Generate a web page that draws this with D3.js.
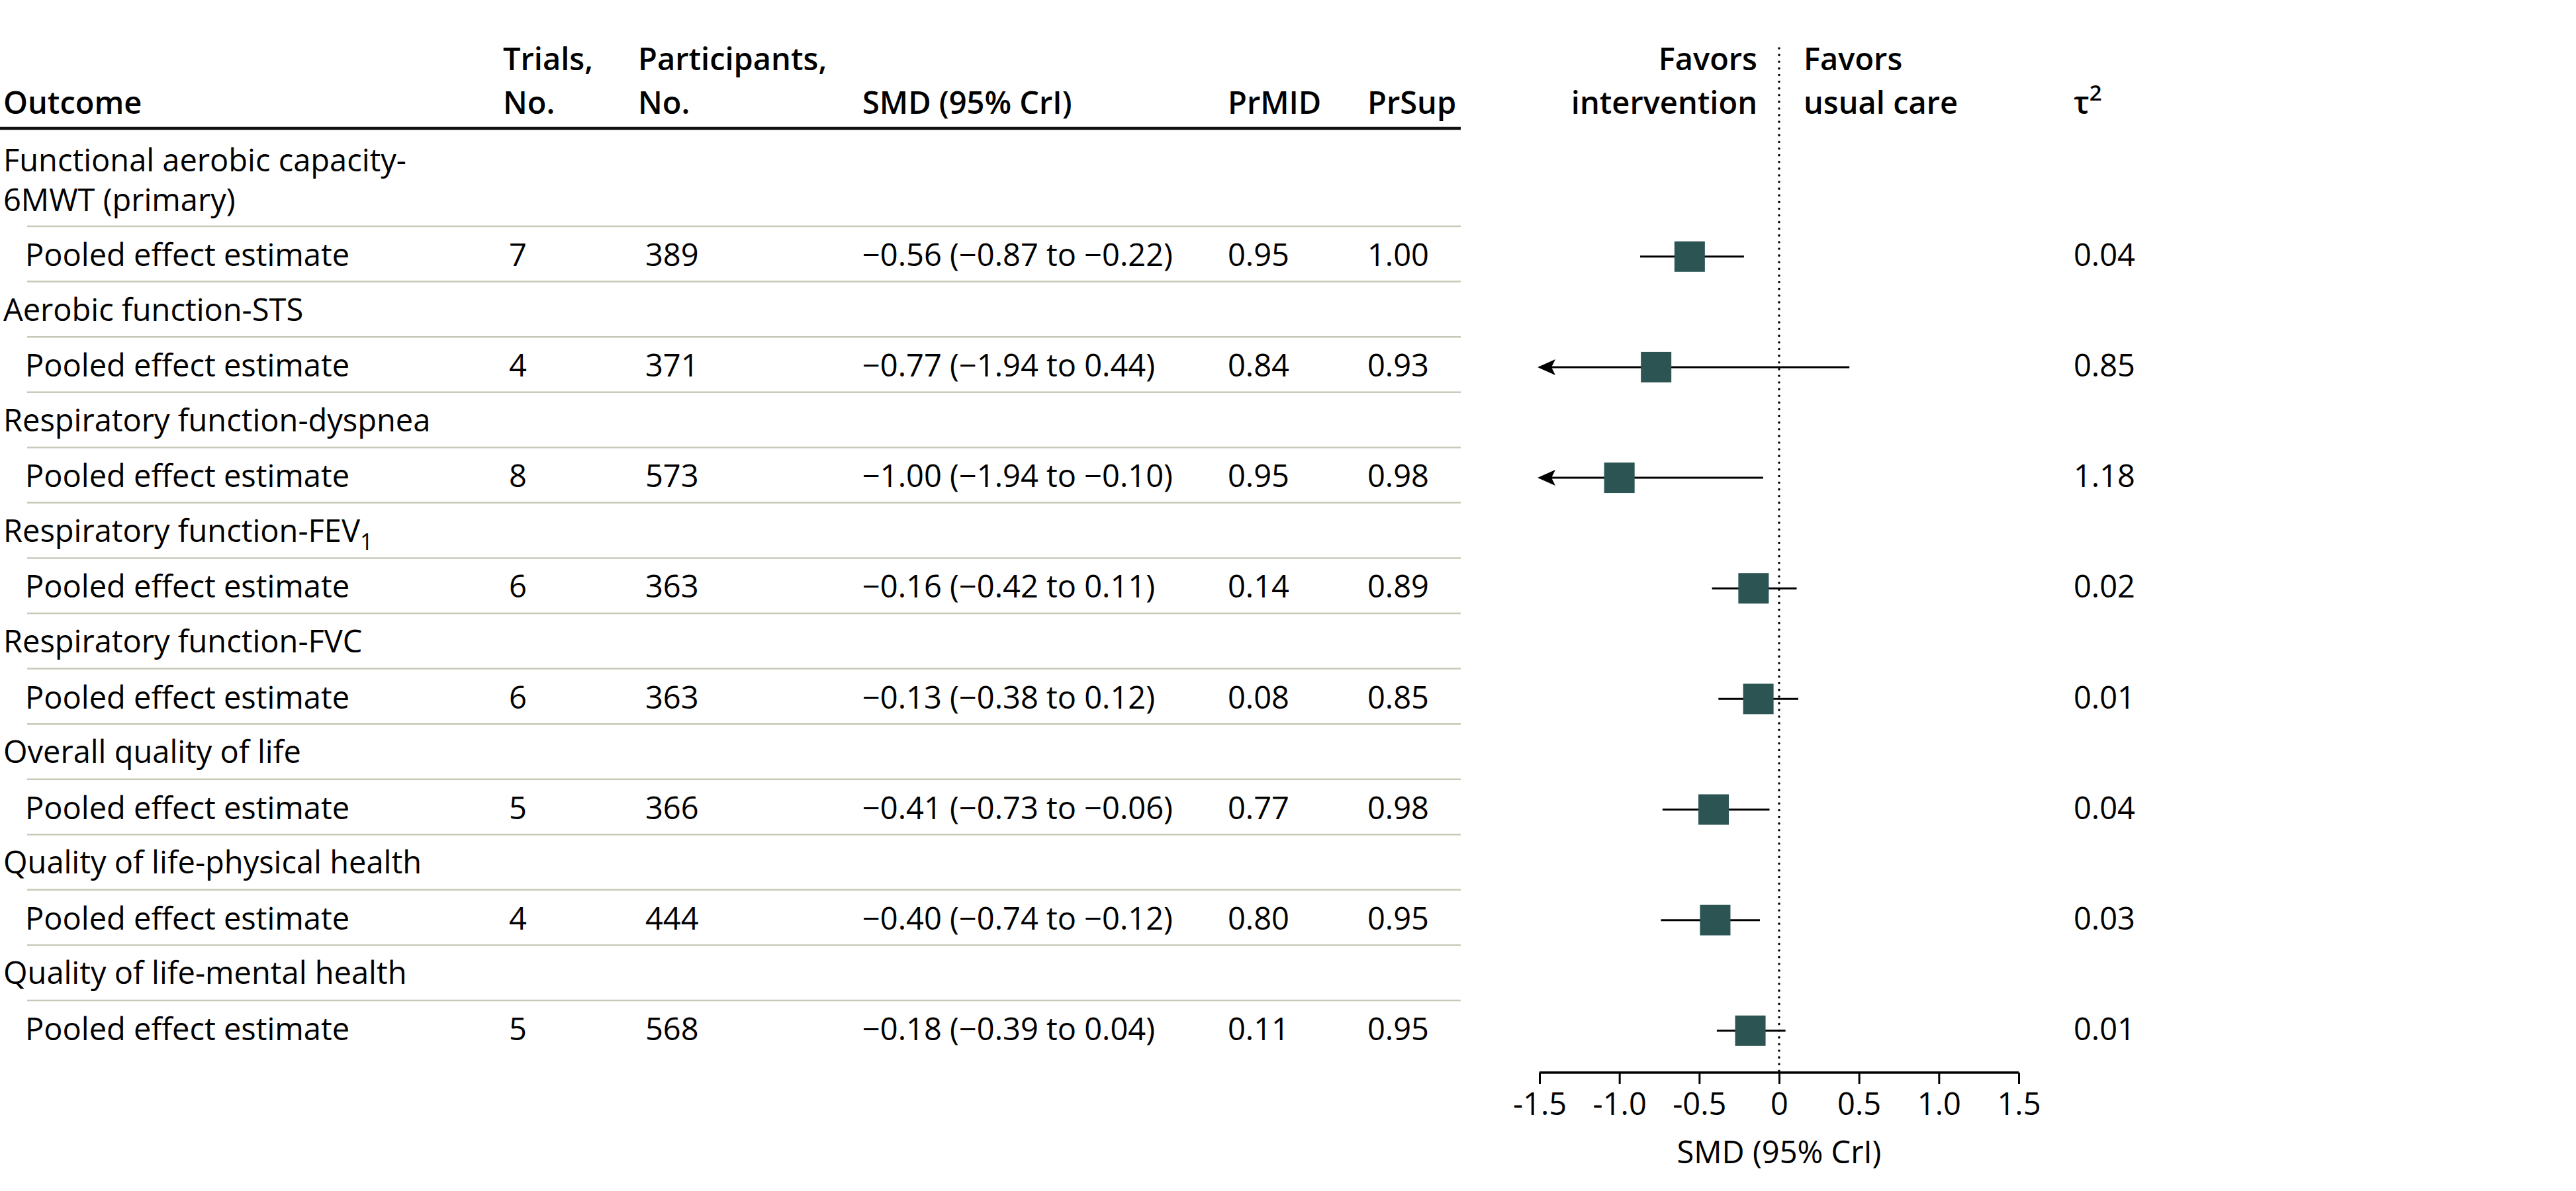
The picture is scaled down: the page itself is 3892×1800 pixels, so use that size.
<!DOCTYPE html>
<html>
<head>
<meta charset="utf-8">
<script src="https://cdn.jsdelivr.net/npm/d3@7"></script>
<style>
  html, body { margin: 0; padding: 0; background: #fff; }
  svg text { font-family: "Open Sans", "Noto Sans", sans-serif; font-size: 47px; fill: #000; }
  .hdr { font-weight: 600; }
</style>
</head>
<body>
<svg id="chart" width="3892" height="1800"></svg>
<script>
const outcomes = [
  ["Functional aerobic capacity-", "6MWT (primary)"],
  ["Aerobic function-STS"],
  ["Respiratory function-dyspnea"],
  ["Respiratory function-FEV", "1"],
  ["Respiratory function-FVC"],
  ["Overall quality of life"],
  ["Quality of life-physical health"],
  ["Quality of life-mental health"]
];
const rowLabel = "Pooled effect estimate";
const trials = [7, 4, 8, 6, 6, 5, 4, 5];
const participants = [389, 371, 573, 363, 363, 366, 444, 568];
const smd = [-0.56, -0.77, -1.00, -0.16, -0.13, -0.41, -0.40, -0.18];
const lower = [-0.87, -1.94, -1.94, -0.42, -0.38, -0.73, -0.74, -0.39];
const upper = [-0.22, 0.44, -0.10, 0.11, 0.12, -0.06, -0.12, 0.04];
const prmid = [0.95, 0.84, 0.95, 0.14, 0.08, 0.77, 0.80, 0.11];
const prsup = [1.00, 0.93, 0.98, 0.89, 0.85, 0.98, 0.95, 0.95];
const tau2 = [0.04, 0.85, 1.18, 0.02, 0.01, 0.04, 0.03, 0.01];
const xTicks = [-1.5, -1.0, -0.5, 0, 0.5, 1.0, 1.5];
const xTickLabels = ["-1.5", "-1.0", "-0.5", "0", "0.5", "1.0", "1.5"];

const svg = d3.select("#chart");
const f2 = d3.format(".2f");
const fm = v => f2(v).replace("-", "\u2212");

// scales
const x = d3.scaleLinear().domain([-1.5, 1.5]).range([2326, 3050]);
const y = d3.scaleLinear().domain([0, 15]).range([342, 342 + 15 * 83.57]);

const col = { outcome: 5, pooled: 38, trials: 760, part: 964, smd: 1303, prmid: 1855, prsup: 2066, tau: 3133 };
const lineX0 = 41, lineX1 = 2207;

// header
const h = svg.append("g");
function hdr(xp, yp, t, anchor) {
  return h.append("text").attr("class", "hdr").attr("x", xp).attr("y", yp)
    .attr("text-anchor", anchor || "start").text(t);
}
hdr(col.outcome, 172, "Outcome");
hdr(col.trials, 106, "Trials,");
hdr(col.trials, 172, "No.");
hdr(col.part, 106, "Participants,");
hdr(col.part, 172, "No.");
hdr(col.smd, 172, "SMD (95% CrI)");
hdr(col.prmid, 172, "PrMID");
hdr(col.prsup, 172, "PrSup");
hdr(x(0) - 33, 106, "Favors", "end");
hdr(x(0) - 33, 172, "intervention", "end");
hdr(x(0) + 37, 106, "Favors");
hdr(x(0) + 37, 172, "usual care");
const tauH = hdr(col.tau, 172, "\u03C4");
tauH.append("tspan").attr("dy", -20).attr("font-size", 33).text("2");

h.append("line").attr("x1", 0).attr("x2", lineX1).attr("y1", 194).attr("y2", 194)
  .attr("stroke", "#111").attr("stroke-width", 4.5);

// row separator lines
const gl = svg.append("g");
d3.range(0, 15).forEach(k => {
  gl.append("line").attr("x1", lineX0).attr("x2", lineX1)
    .attr("y1", y(k)).attr("y2", y(k))
    .attr("stroke", "#c8c9b8").attr("stroke-width", 2.5);
});

// zero dotted line
svg.append("line").attr("x1", x(0)).attr("x2", x(0)).attr("y1", 73).attr("y2", 1621)
  .attr("stroke", "#000").attr("stroke-width", 3.5)
  .attr("stroke-dasharray", "0.1 10").attr("stroke-linecap", "round");

// group labels
const tg = svg.append("g");
outcomes.forEach((o, i) => {
  if (i === 0) {
    tg.append("text").attr("x", col.outcome).attr("y", 259).text(o[0]);
    tg.append("text").attr("x", col.outcome).attr("y", 319).text(o[1]);
  } else if (o.length === 2) {
    const t = tg.append("text").attr("x", col.outcome).attr("y", y(2 * i - 1) + 59).text(o[0]);
    t.append("tspan").attr("dy", 12).attr("font-size", 34).text(o[1]);
  } else {
    tg.append("text").attr("x", col.outcome).attr("y", y(2 * i - 1) + 59).text(o[0]);
  }
});

// pooled rows
smd.forEach((v, i) => {
  const top = y(2 * i), bl = top + 60;
  tg.append("text").attr("x", col.pooled).attr("y", bl).text(rowLabel);
  tg.append("text").attr("x", col.trials + 9).attr("y", bl).text(trials[i]);
  tg.append("text").attr("x", col.part + 11).attr("y", bl).text(participants[i]);
  tg.append("text").attr("x", col.smd).attr("y", bl)
    .text(`${fm(v)} (${fm(lower[i])} to ${fm(upper[i])})`);
  tg.append("text").attr("x", col.prmid).attr("y", bl).text(f2(prmid[i]));
  tg.append("text").attr("x", col.prsup).attr("y", bl).text(f2(prsup[i]));
  tg.append("text").attr("x", col.tau).attr("y", bl).text(f2(tau2[i]));
});

// forest marks
const fg = svg.append("g");
smd.forEach((v, i) => {
  const cy = (y(2 * i) + y(2 * i + 1)) / 2 + 4;
  const lo = Math.max(lower[i], -1.5), hi = Math.min(upper[i], 1.5);
  const x0 = lower[i] < -1.5 ? x(lo) + 18 : x(lo);
  fg.append("line").attr("x1", x0).attr("x2", x(hi)).attr("y1", cy).attr("y2", cy)
    .attr("stroke", "#000").attr("stroke-width", 3);
  if (lower[i] < -1.5) {
    const tx = x(-1.5) - 3;
    fg.append("path")
      .attr("d", `M${tx},${cy} L${tx + 27},${cy - 12} L${tx + 21},${cy} L${tx + 27},${cy + 12} Z`)
      .attr("fill", "#000");
  }
  fg.append("rect").attr("x", x(v) - 23).attr("y", cy - 23).attr("width", 46).attr("height", 46)
    .attr("fill", "#2b5453");
});

// axis
const axis = d3.axisBottom(x).tickValues(xTicks)
  .tickFormat((d, i) => xTickLabels[i]).tickSize(17).tickPadding(14);
const ag = svg.append("g").attr("transform", "translate(0,1621)").call(axis);
ag.select(".domain").attr("stroke", "#000").attr("stroke-width", 3.5)
  .attr("d", `M${x(-1.5)},0H${x(1.5)}`);
ag.selectAll(".tick line").attr("stroke", "#000").attr("stroke-width", 3);
ag.selectAll(".tick text").attr("font-size", 47).attr("font-family", "'Open Sans', sans-serif")
  .attr("fill", "#000").attr("dy", "0.71em");
svg.append("text").attr("x", x(0)).attr("y", 1758).attr("text-anchor", "middle").text("SMD (95% CrI)");
</script>
</body>
</html>
